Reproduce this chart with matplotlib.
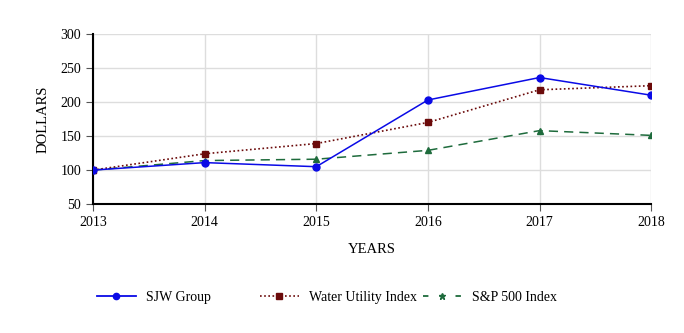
import matplotlib
matplotlib.use("Agg")
import matplotlib.pyplot as plt
from matplotlib.lines import Line2D

years = [2013, 2014, 2015, 2016, 2017, 2018]
sjw = [100, 111, 105, 203, 236, 210]
water = [100, 124, 139, 170, 218, 224]
sp500 = [100, 114, 116, 129, 158, 151]
yticks = [50, 100, 150, 200, 250, 300]
labels = ['SJW Group', 'Water Utility Index', 'S&P 500 Index']

plt.rcParams['font.family'] = ['Liberation Serif', 'DejaVu Serif']

fig = plt.figure(figsize=(6.84, 3.33), dpi=100)
ax = fig.add_axes([0.136, 0.387, 0.816, 0.511])

c_sjw = '#0A0AE6'
c_w = '#6B0A0A'
c_sp = '#1E6B3C'

ax.plot(years, sjw, color=c_sjw, lw=1.1, marker='o', ms=5, zorder=5)
ax.plot(years, water, color=c_w, lw=1.2, ls=(0, (1, 1.5)), marker='s', ms=5, zorder=4)
ax.plot(years, sp500, color=c_sp, lw=1.1, ls=(0, (6, 4)), marker='^', ms=5, zorder=3)

ax.set_xlim(2013, 2018)
ax.set_ylim(50, 300)
ax.set_xticks(years)
ax.set_yticks(yticks)
ax.grid(True, color='#DDDDDD', lw=1)
ax.set_axisbelow(True)
for s in ['top', 'right']:
    ax.spines[s].set_visible(False)
for s in ['left', 'bottom']:
    ax.spines[s].set_linewidth(1.5)
ax.tick_params(axis='both', labelsize=10, length=5, color='#555555', direction='out')
ax.set_ylabel('DOLLARS', fontsize=10.5, labelpad=8)
ax.set_xlabel('YEARS', fontsize=10.5, labelpad=10)

handles = [
    Line2D([], [], color=c_sjw, lw=1.3, marker='o', ms=4.5),
    Line2D([], [], color=c_w, lw=1.2, ls=(0, (1, 1.5)), marker='s', ms=4.5),
    Line2D([], [], color=c_sp, lw=1.3, ls=(0, (3, 6)), marker='*', ms=5),
]
xs = [97, 260, 423]
for h, lab, x in zip(handles, labels, xs):
    fig.legend([h], [lab], loc='center left', bbox_to_anchor=(x / 684, 0.108),
               frameon=False, fontsize=10, handlelength=2.8, handletextpad=0.75,
               borderpad=0, borderaxespad=0)

fig.savefig('out.png', dpi=100)
